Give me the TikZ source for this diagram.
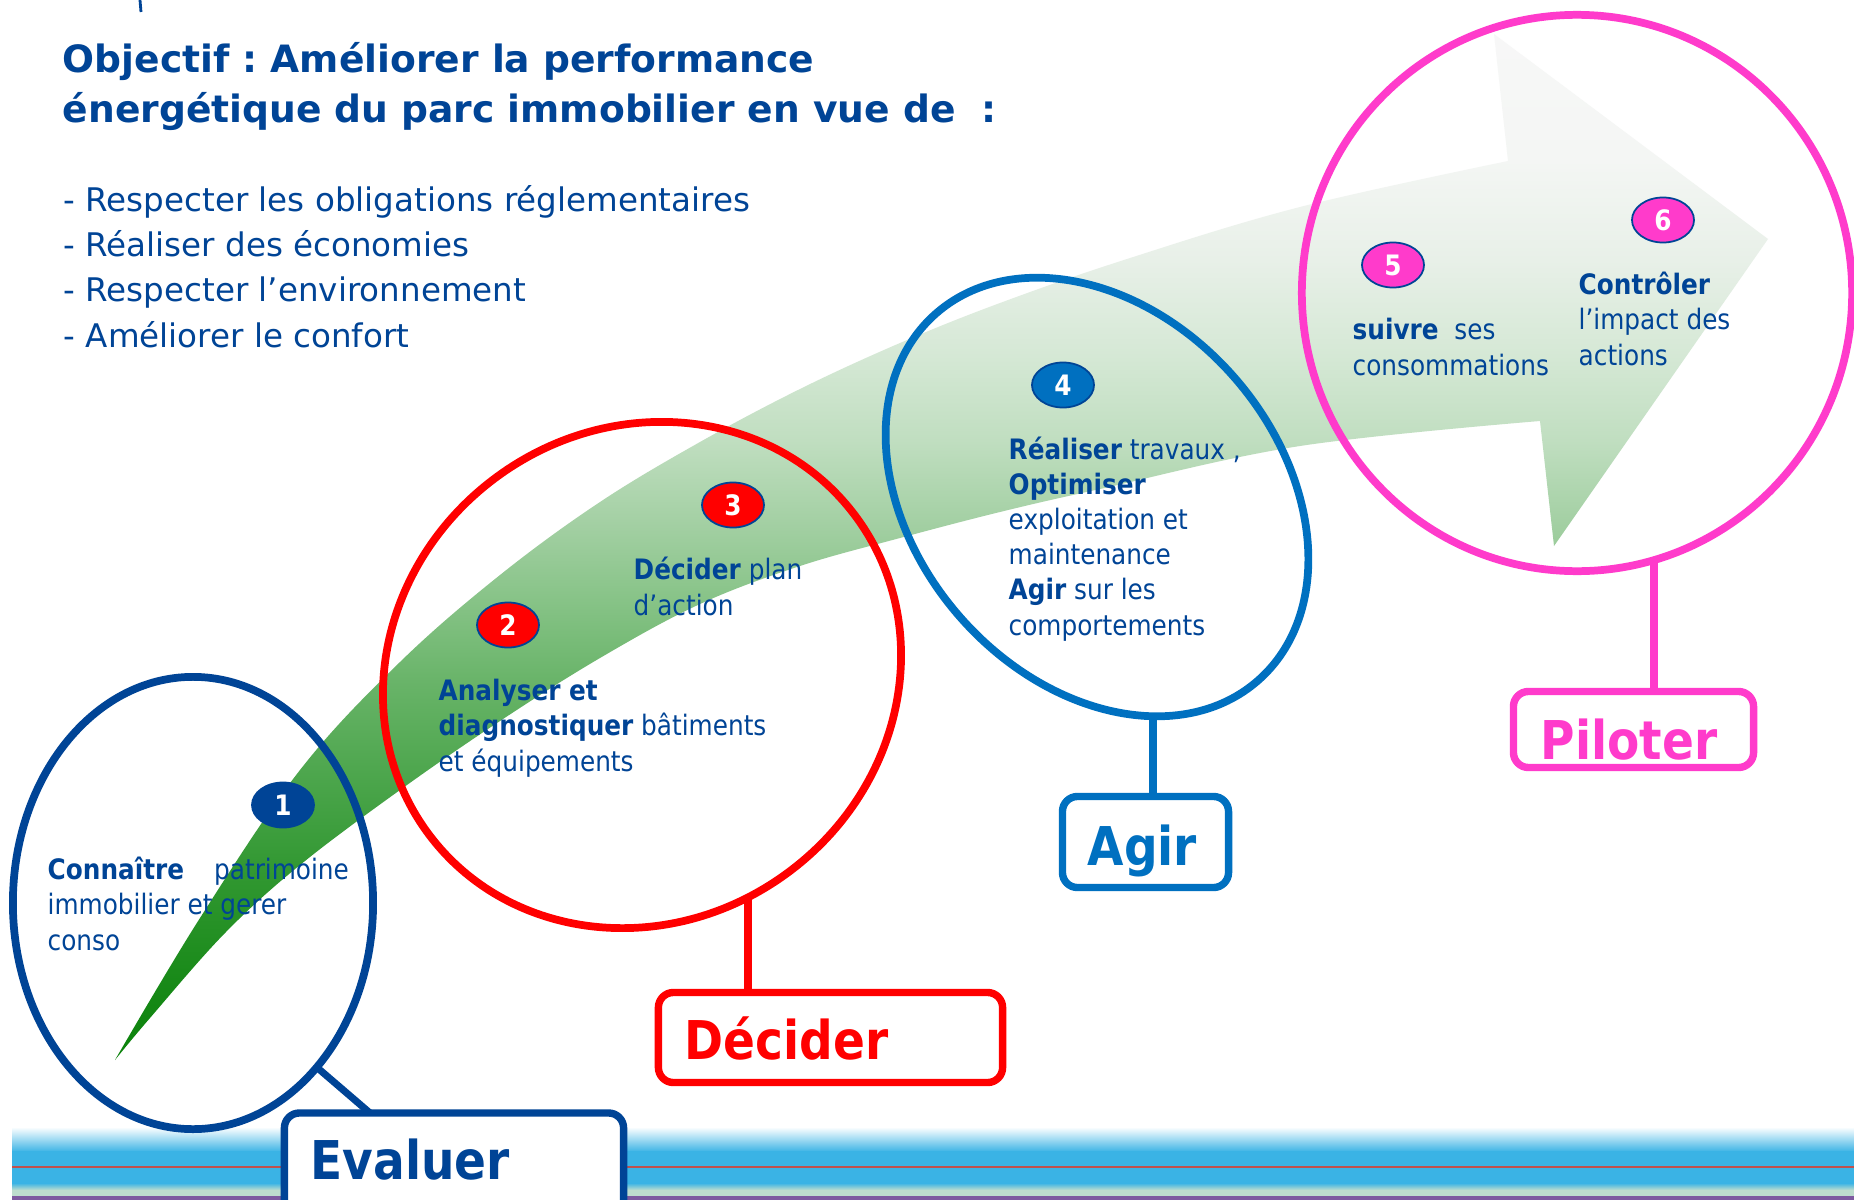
\documentclass[tikz,border=0pt]{standalone}
\usepackage{fontspec}
\setmainfont{DejaVu Sans}
\newfontfamily\nf{DejaVu Sans}[FakeStretch=0.88]
\usetikzlibrary{shapes.geometric}
\frenchspacing
\definecolor{db}{RGB}{0,68,150}
\definecolor{ag}{RGB}{0,112,192}
\definecolor{pk}{RGB}{255,59,203}
\definecolor{rd}{RGB}{255,0,0}
\definecolor{band}{RGB}{58,179,229}
\definecolor{bandred}{RGB}{192,80,77}
\definecolor{mint}{RGB}{190,221,206}
\definecolor{bandpurple}{RGB}{126,90,160}
\pgfdeclareverticalshading{arrowgrad}{100bp}{%
rgb(0bp)=(0.039,0.510,0.039);
rgb(25bp)=(0.039,0.510,0.039);
rgb(28.9bp)=(0.098,0.541,0.098);
rgb(34.3bp)=(0.196,0.596,0.196);
rgb(38.6bp)=(0.294,0.647,0.294);
rgb(43.5bp)=(0.412,0.706,0.412);
rgb(47.4bp)=(0.529,0.765,0.529);
rgb(51bp)=(0.635,0.812,0.635);
rgb(55.2bp)=(0.753,0.871,0.753);
rgb(59.3bp)=(0.835,0.910,0.835);
rgb(64bp)=(0.910,0.941,0.910);
rgb(68.9bp)=(0.957,0.965,0.957);
rgb(75bp)=(0.969,0.969,0.969);
rgb(100bp)=(0.969,0.969,0.969)}
\tikzset{
  txt/.style={inner sep=0pt, anchor=base west, align=left, text=db, font=\nf\fontsize{8}{9.96}\selectfont},
  badge/.style={ellipse, minimum width=0.62cm, minimum height=0.45cm, inner sep=0pt, draw=db, line width=0.5pt, text=white, font=\nf\bfseries\fontsize{8}{9}\selectfont},
  ring/.style={ellipse, line width=2.2pt, inner sep=0pt, outer sep=0pt},
  stagebox/.style={draw, rectangle, rounded corners=0.15cm, line width=2.1pt, fill=white, inner sep=0pt, outer sep=0pt},
  stagelbl/.style={inner sep=0pt, anchor=base west, font=\nf\bfseries\fontsize{15.2}{18}\selectfont},
  link/.style={line width=2.3pt}
}
\begin{document}
\begin{tikzpicture}[x=0.01cm, y=-0.01cm]
\useasboundingbox (0,0) rectangle (1854,1200);
\fill[white] (0,0) rectangle (1854,1200);
% small mark at the top edge
\draw[db, line width=0.8pt] (140,0) -- (141,12);
% bottom band
\shade[top color=white, bottom color=band] (12,1127) rectangle (1854,1152);
\fill[band] (12,1151) rectangle (1854,1184);
\draw[bandred, line width=0.5pt] (12,1167) -- (1854,1167);
\shade[top color=band, bottom color=mint] (12,1183) rectangle (1854,1190);
\fill[mint] (12,1189.5) rectangle (1854,1196);
\fill[bandpurple] (12,1196) rectangle (1854,1200);
% green arrow
\shade[shading=arrowgrad]
  plot[smooth, tension=0.6] coordinates {(115,1060) (200,918) (300,770) (400,662) (500,575) (600,502) (700,442) (800,389) (900,343) (1000,303) (1127,259) (1300,207) (1508,161)}
  -- (1494,34) -- (1768,239) -- (1554,546)
  -- plot[smooth, tension=0.6] coordinates {(1540,421) (1300,446) (1100,489) (1000,512) (900,538) (800,566) (700,604) (600,658) (500,721) (400,790) (300,865) (225,933) (150,1018) (115,1060)}
  -- cycle;
% rings
\node[ring, draw=db, minimum width=3.6cm, minimum height=4.52cm] (c1) at (193,903) {};
\node[ring, draw=rd, rotate=36.6, minimum width=5.32cm, minimum height=4.91cm] (c2) at (642,675) {};
\node[ring, draw=ag, rotate=-48.7, minimum width=4.88cm, minimum height=3.64cm] (c3) at (1097,497) {};
\node[ring, draw=pk, minimum width=5.5cm, minimum height=5.56cm] (c4) at (1577,293) {};
% stage boxes
\node[stagebox, draw=db, minimum width=3.39cm, minimum height=1.17cm] (bxE) at (454,1171.5) {};
\node[stagebox, draw=rd, minimum width=3.44cm, minimum height=0.90cm] (bxD) at (830.5,1037.5) {};
\node[stagebox, draw=ag, minimum width=1.66cm, minimum height=0.91cm] (bxA) at (1145.5,842) {};
\node[stagebox, draw=pk, minimum width=2.40cm, minimum height=0.76cm] (bxP) at (1633.5,729.5) {};
% connectors
\coordinate (e1) at (370,1113);
\draw[link, db, line width=2pt] (c1.-53.4) -- (e1);
\coordinate (c2b) at (748,896);
\draw[link, rd] (c2b) -- (c2b |- bxD.north);
\coordinate (c3b) at (1153,713);
\draw[link, ag] (c3b) -- (c3b |- bxA.north);
\draw[link, pk] (c4.-74.96) -- (c4.-74.96 |- bxP.north);
% stage labels
\node[stagelbl, text=db] (lE) at (310,1179) {Evaluer};
\node[stagelbl, text=rd] (lD) at (684,1059) {Décider};
\node[stagelbl, text=ag] (lA) at (1087,865) {Agir};
\node[stagelbl, text=pk] (lP) at (1540,759) {Piloter};
% title and goals (base anchor = last line baseline)
\node[inner sep=0pt, anchor=base west, align=left, text=db, font=\bfseries\fontsize{10.7}{14.2}\selectfont] (title) at (62,122) {Objectif : Améliorer la performance\\énergétique du parc immobilier en vue de\ \ :};
\node[inner sep=0pt, anchor=base west, align=left, text=db, font=\fontsize{9.25}{12.8}\selectfont] (goals) at (63,347) {- Respecter les obligations réglementaires\\- Réaliser des économies\\- Respecter l’environnement\\- Améliorer le confort};
% step texts (base anchor = last line baseline)
\node[txt] (t1) at (47,950) {\textbf{Connaître}\hspace{0.3cm}patrimoine\\immobilier et gerer\\conso};
\node[txt] (t2) at (438,771) {\textbf{Analyser et}\\\textbf{diagnostiquer} bâtiments\\et équipements};
\node[txt] (t3) at (633,615) {\textbf{Décider} plan\\d’action};
\node[txt] (t4) at (1008,635) {\textbf{Réaliser} travaux ,\\\textbf{Optimiser}\\exploitation et\\maintenance\\\textbf{Agir} sur les\\comportements};
\node[txt] (t5) at (1352,375) {\textbf{suivre}\ \ ses\\consommations};
\node[txt] (t6) at (1578,365) {\textbf{Contrôler}\\l’impact des\\actions};
% badges
\node[badge, fill=db] (b1) at (283,805) {1};
\node[badge, fill=rd] (b2) at (508,625) {2};
\node[badge, fill=rd] (b3) at (733,505) {3};
\node[badge, fill=ag] (b4) at (1063,385) {4};
\node[badge, fill=pk] (b5) at (1393,265) {5};
\node[badge, fill=pk] (b6) at (1663,220) {6};
\end{tikzpicture}
\end{document}
